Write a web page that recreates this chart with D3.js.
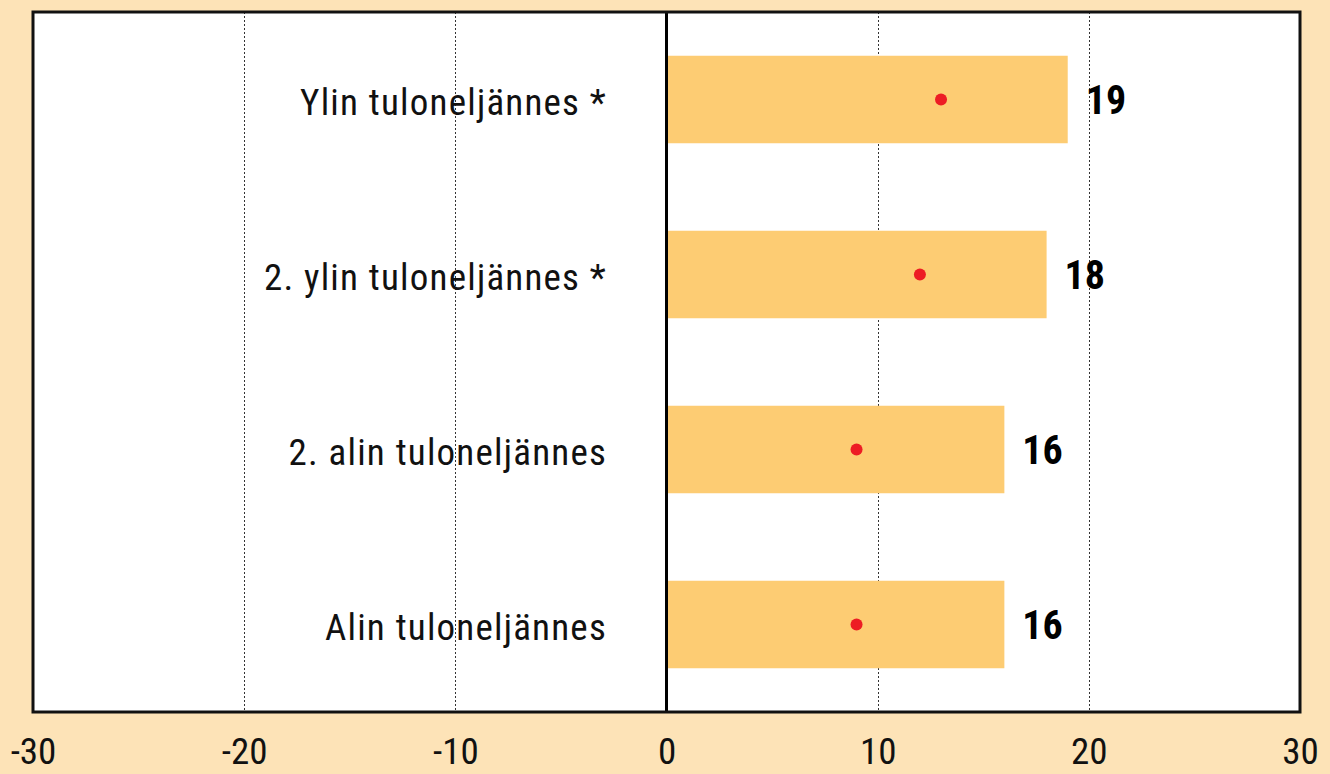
<!DOCTYPE html>
<html lang="fi">
<head>
<meta charset="UTF-8">
<script src="https://d3js.org/d3.v7.min.js"></script>
<style>
  body { margin: 0; background: #fde3b7; }
  svg { display: block; }
  text { font-family: "Liberation Sans Narrow", "Roboto Condensed", "Liberation Sans", sans-serif; }
</style>
</head>
<body>
<div id="chart"></div>
<script>
// categories from top to bottom
var categories = ["Ylin tuloneljännes *", "2. ylin tuloneljännes *", "2. alin tuloneljännes", "Alin tuloneljännes"];
var barValues = [19, 18, 16, 16];
var dotValues = [13, 12, 9, 9];
var tickValues = [-30, -20, -10, 0, 10, 20, 30];
var gridValues = [-20, -10, 10, 20];

var width = 1330, height = 774;
var plot = { left: 33, right: 1300, top: 12, bottom: 712 };

var svg = d3.select("#chart").append("svg")
    .attr("width", width)
    .attr("height", height);

svg.append("rect")
    .attr("width", width).attr("height", height)
    .attr("fill", "#fde3b7");

var x = d3.scaleLinear().domain([-30, 30]).range([plot.left, plot.right]);
var y = d3.scaleBand().domain(categories).range([plot.top, plot.bottom])
    .paddingInner(0.5).paddingOuter(0.25);

// plot area
svg.append("rect")
    .attr("x", plot.left).attr("y", plot.top)
    .attr("width", plot.right - plot.left).attr("height", plot.bottom - plot.top)
    .attr("fill", "#fff");

// dotted grid
svg.selectAll("line.grid")
    .data(gridValues)
    .enter().append("line")
    .attr("class", "grid")
    .attr("x1", d => Math.round(x(d)) + 0.5).attr("x2", d => Math.round(x(d)) + 0.5)
    .attr("y1", plot.top).attr("y2", plot.bottom)
    .attr("stroke", "#333")
    .attr("stroke-width", 1)
    .attr("stroke-dasharray", "2,2");

// category labels
svg.selectAll("text.cat")
    .data(categories)
    .enter().append("text")
    .attr("class", "cat")
    .attr("x", 607)
    .attr("y", d => y(d) + y.bandwidth() / 2)
    .attr("dy", "0.42em")
    .attr("text-anchor", "end")
    .attr("font-size", 37)
    .attr("letter-spacing", 1.2)
    .attr("fill", "#111")
    .text(d => d);

// bars
svg.selectAll("rect.bar")
    .data(barValues)
    .enter().append("rect")
    .attr("class", "bar")
    .attr("x", x(0))
    .attr("y", (d, i) => y(categories[i]))
    .attr("width", d => x(d) - x(0))
    .attr("height", y.bandwidth())
    .attr("fill", "#fdcc73");

// dots
svg.selectAll("circle.dot")
    .data(dotValues)
    .enter().append("circle")
    .attr("class", "dot")
    .attr("cx", d => x(d))
    .attr("cy", (d, i) => y(categories[i]) + y.bandwidth() / 2)
    .attr("r", 6)
    .attr("fill", "#ed1c24");

// value labels
svg.selectAll("text.val")
    .data(barValues)
    .enter().append("text")
    .attr("class", "val")
    .attr("x", d => x(d) + 18)
    .attr("y", (d, i) => y(categories[i]) + y.bandwidth() / 2)
    .attr("dy", "0.36em")
    .attr("font-size", 40)
    .attr("font-weight", "bold")
    .attr("fill", "#000")
    .text(d => d);

// zero line
svg.append("line")
    .attr("x1", x(0)).attr("x2", x(0))
    .attr("y1", plot.top).attr("y2", plot.bottom)
    .attr("stroke", "#000").attr("stroke-width", 3);

// frame
svg.append("rect")
    .attr("x", plot.left).attr("y", plot.top)
    .attr("width", plot.right - plot.left).attr("height", plot.bottom - plot.top)
    .attr("fill", "none")
    .attr("stroke", "#111").attr("stroke-width", 3);

// x axis
var xAxis = d3.axisBottom(x).tickValues(tickValues).tickSize(0)
    .tickFormat(d => String(d));
var gx = svg.append("g")
    .attr("transform", "translate(0," + plot.bottom + ")")
    .call(xAxis);
gx.select(".domain").remove();
gx.selectAll("text")
    .attr("y", 52)
    .attr("dy", null)
    .attr("font-size", 37)
    .attr("fill", "#111")
    .style("font-family", "\"Liberation Sans Narrow\", \"Roboto Condensed\", \"Liberation Sans\", sans-serif");
</script>
</body>
</html>
